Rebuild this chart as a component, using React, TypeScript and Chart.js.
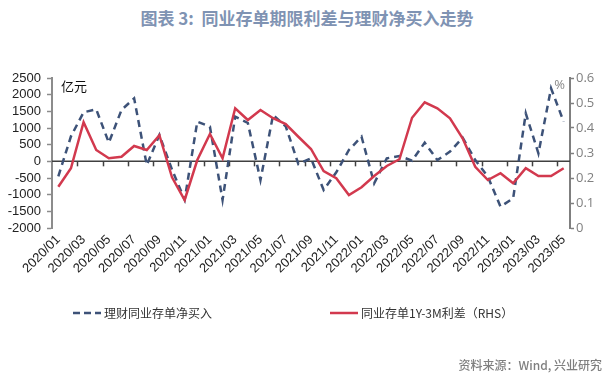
import React, { useEffect, useRef } from 'react';
import { Chart, registerables } from 'chart.js';

Chart.register(...registerables);

const months = [
  '2020/01', '2020/02', '2020/03', '2020/04', '2020/05', '2020/06', '2020/07', '2020/08', '2020/09', '2020/10', '2020/11', '2020/12',
  '2021/01', '2021/02', '2021/03', '2021/04', '2021/05', '2021/06', '2021/07', '2021/08', '2021/09', '2021/10', '2021/11', '2021/12',
  '2022/01', '2022/02', '2022/03', '2022/04', '2022/05', '2022/06', '2022/07', '2022/08', '2022/09', '2022/10', '2022/11', '2022/12',
  '2023/01', '2023/02', '2023/03', '2023/04', '2023/05',
];

// 理财同业存单净买入（亿元）
const netBuy = [
  -450, 750, 1470, 1560, 560, 1540, 1890, -110, 790, -250, -1150, 1190,
  1040, -1160, 1340, 1150, -560, 1390, 1050, -80, 90, -860, -330, 340,
  740, -660, 90, 160, 20, 560, 40, 290, 710, 40, -460, -1360,
  -1110, 1440, 240, 2190, 1190,
];

// 同业存单1Y-3M利差（%）
const spread = [
  0.165, 0.239, 0.423, 0.312, 0.279, 0.285, 0.328, 0.312, 0.371, 0.203, 0.112, 0.272,
  0.376, 0.279, 0.479, 0.432, 0.472, 0.439, 0.416, 0.365, 0.316, 0.228, 0.199, 0.132,
  0.163, 0.208, 0.248, 0.275, 0.441, 0.503, 0.479, 0.439, 0.359, 0.245, 0.192, 0.219,
  0.179, 0.239, 0.208, 0.208, 0.239,
];

const leftTicks = [-2000, -1500, -1000, -500, 0, 500, 1000, 1500, 2000, 2500];
const rightTicks = [0, 0.1, 0.2, 0.3, 0.4, 0.5, 0.6];

const seriesNames = ['理财同业存单净买入', '同业存单1Y-3M利差（RHS）'];
const titleText = '图表 3:  同业存单期限利差与理财净买入走势';
const sourceText = '资料来源：Wind, 兴业研究';

const BLUE = '#3d5278';
const RED = '#d2394e';

const extrasPlugin = {
  id: 'extras',
  beforeDatasetsDraw(chart: any) {
    const { ctx, chartArea, scales } = chart;
    const xs = scales.x;
    const ys = scales.y;
    const y0 = ys.getPixelForValue(0);
    ctx.save();
    ctx.strokeStyle = '#404040';
    ctx.lineWidth = 1.5;
    ctx.beginPath();
    ctx.moveTo(chartArea.left, y0);
    ctx.lineTo(chartArea.right, y0);
    ctx.stroke();
    ctx.lineWidth = 1.5;
    for (let i = 2; i < months.length; i += 2) {
      const px = Math.round((xs.getPixelForValue(i - 1) + xs.getPixelForValue(i)) / 2) + 0.5;
      ctx.beginPath();
      ctx.moveTo(px, y0);
      ctx.lineTo(px, y0 + 5);
      ctx.stroke();
    }
    ctx.restore();
  },
  afterDraw(chart: any) {
    const { ctx, chartArea } = chart;
    ctx.save();
    ctx.textBaseline = 'middle';
    ctx.font = '13px "Noto Sans CJK SC"';
    ctx.fillStyle = '#111';
    ctx.textAlign = 'left';
    ctx.fillText('亿元', chartArea.left + 9, chartArea.top + 8);
    ctx.font = '13px "Open Sans"';
    ctx.fillStyle = '#888';
    ctx.textAlign = 'right';
    ctx.fillText('%', chartArea.right - 5, chartArea.top + 7);
    ctx.restore();
  },
};

export default function App() {
  const canvasRef = useRef<HTMLCanvasElement | null>(null);

  useEffect(() => {
    if (!canvasRef.current) return;
    const chart = new Chart(canvasRef.current, {
      type: 'line',
      data: {
        labels: months,
        datasets: [
          {
            label: seriesNames[0],
            data: netBuy,
            yAxisID: 'y',
            borderColor: BLUE,
            backgroundColor: BLUE,
            borderWidth: 2.5,
            borderDash: [7, 5],
            pointRadius: 0,
            tension: 0,
            order: 2,
          },
          {
            label: seriesNames[1],
            data: spread,
            yAxisID: 'y1',
            borderColor: RED,
            backgroundColor: RED,
            borderWidth: 2.5,
            pointRadius: 0,
            tension: 0,
            order: 1,
          },
        ],
      },
      options: {
        animation: false,
        responsive: false,
        maintainAspectRatio: false,
        layout: { padding: { top: 78, left: 0, right: 0, bottom: 0 } },
        plugins: {
          legend: { display: false },
          tooltip: { enabled: false },
          title: { display: false },
        },
        scales: {
          x: {
            type: 'category',
            offset: true,
            grid: { display: false, drawTicks: false },
            border: { display: false },
            ticks: {
              autoSkip: false,
              maxRotation: 45,
              minRotation: 45,
              padding: 4,
              color: '#222',
              font: { family: '"Liberation Sans", Arial, sans-serif', size: 13 },
              callback: (_v: any, i: number) => (i % 2 === 0 ? months[i] : ''),
            },
            afterFit: (s: any) => {
              s.height = 158;
            },
          },
          y: {
            position: 'left',
            min: -2000,
            max: 2500,
            afterBuildTicks: (s: any) => {
              s.ticks = leftTicks.map((v) => ({ value: v }));
            },
            afterFit: (s: any) => {
              s.width = 52;
            },
            grid: {
              drawOnChartArea: false,
              drawTicks: true,
              tickLength: 5,
              color: '#8c8c8c',
              tickColor: '#8c8c8c',
              tickWidth: 1.5,
            },
            border: { display: true, color: '#8c8c8c', width: 2 },
            ticks: {
              autoSkip: false,
              padding: 6,
              color: '#222',
              font: { family: '"Liberation Sans", Arial, sans-serif', size: 13 },
              callback: (v: any) => String(v),
            },
          },
          y1: {
            position: 'right',
            min: 0,
            max: 0.6,
            afterBuildTicks: (s: any) => {
              s.ticks = rightTicks.map((v) => ({ value: v }));
            },
            afterFit: (s: any) => {
              s.width = 44;
            },
            grid: {
              drawOnChartArea: false,
              drawTicks: true,
              tickLength: 4,
              color: '#7f7f7f',
              tickColor: '#7f7f7f',
              tickWidth: 1.5,
            },
            border: { display: true, color: '#7f7f7f', width: 2 },
            ticks: {
              autoSkip: false,
              padding: 2,
              color: '#808080',
              font: { family: '"Open Sans", sans-serif', size: 13 },
              callback: (v: any) => String(Math.round(v * 10) / 10),
            },
          },
        },
      },
      plugins: [extrasPlugin],
    } as any);
    return () => chart.destroy();
  }, []);

  const legendText: React.CSSProperties = {
    position: 'absolute',
    top: 305,
    fontFamily: '"Noto Sans CJK SC", sans-serif',
    fontSize: 12,
    lineHeight: '16px',
    color: '#333',
    whiteSpace: 'nowrap',
  };

  return (
    <div style={{ position: 'absolute', left: 0, top: 0, width: 614, height: 386, background: '#fff', overflow: 'hidden' }}>
      <div
        style={{
          position: 'absolute',
          left: 0,
          top: 6,
          width: 614,
          textAlign: 'center',
          fontFamily: '"Noto Sans CJK SC", sans-serif',
          fontWeight: 700,
          fontSize: 17,
          lineHeight: '24px',
          color: '#7f93b3',
          whiteSpace: 'pre',
        }}
      >
        {titleText}
      </div>
      <canvas ref={canvasRef} width={614} height={386} style={{ position: 'absolute', left: 0, top: 0, width: 614, height: 386 }} />
      <svg style={{ position: 'absolute', left: 72, top: 306, overflow: 'visible' }} width={30} height={14}>
        <line x1={1} y1={7} x2={29} y2={7} stroke={BLUE} strokeWidth={2.5} strokeDasharray="7 4" />
      </svg>
      <div style={{ ...legendText, left: 104 }}>{seriesNames[0]}</div>
      <svg style={{ position: 'absolute', left: 329, top: 306, overflow: 'visible' }} width={30} height={14}>
        <line x1={1} y1={7} x2={29} y2={7} stroke={RED} strokeWidth={2.5} />
      </svg>
      <div style={{ ...legendText, left: 361 }}>{seriesNames[1]}</div>
      <div
        style={{
          position: 'absolute',
          right: 12,
          top: 356,
          fontFamily: '"Noto Sans CJK SC", sans-serif',
          fontSize: 12,
          lineHeight: '18px',
          color: '#7f7f7f',
          fontWeight: 500,
          whiteSpace: 'nowrap',
        }}
      >
        {sourceText}
      </div>
    </div>
  );
}
